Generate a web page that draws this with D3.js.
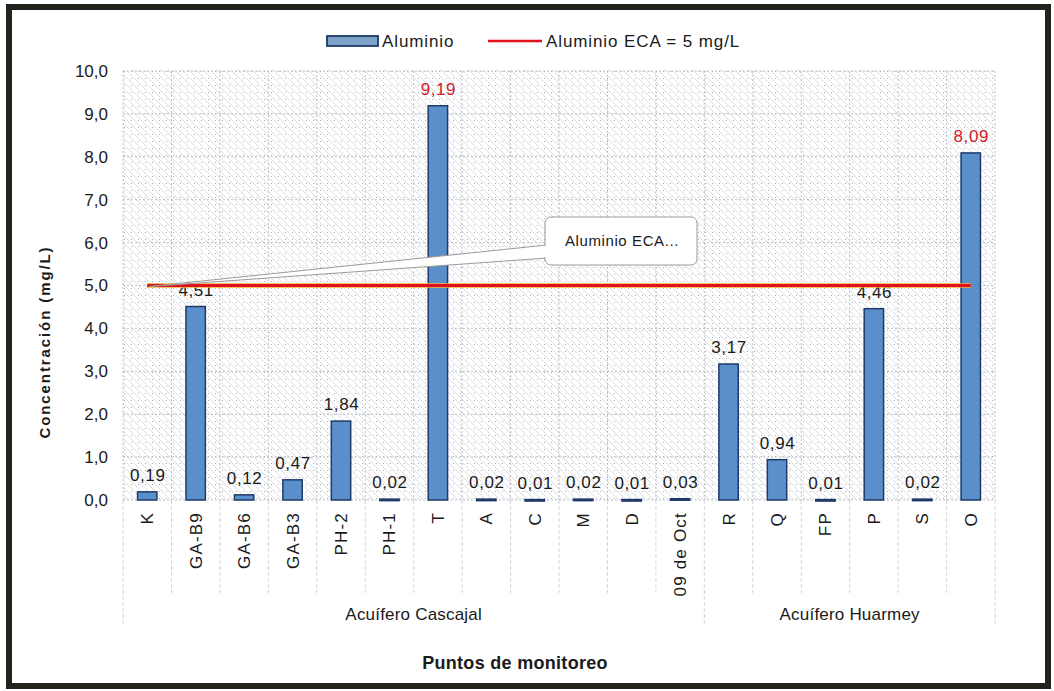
<!DOCTYPE html>
<html>
<head>
<meta charset="utf-8">
<script src="https://cdn.jsdelivr.net/npm/d3@7"></script>
<style>
  body { margin: 0; background: #fff; }
  text { font-family: "Liberation Sans", Arial, sans-serif; }
</style>
</head>
<body>
<div class="chart"></div>
<script>
// datos
var puntos = ["K", "GA-B9", "GA-B6", "GA-B3", "PH-2", "PH-1", "T", "A", "C", "M", "D", "09 de Oct",
              "R", "Q", "FP", "P", "S", "O"]
var aluminio = [0.19, 4.51, 0.12, 0.47, 1.84, 0.02, 9.19, 0.02, 0.01, 0.02, 0.01, 0.03,
                3.17, 0.94, 0.01, 4.46, 0.02, 8.09]
var acuiferos = ["Acuífero Cascajal", "Acuífero Huarmey"]
var puntosPorAcuifero = [12, 6]
var eca = 5
var yTicks = [0, 1, 2, 3, 4, 5, 6, 7, 8, 9, 10]

var W = 1054, H = 691
var svg = d3.select(".chart").append("svg").attr("width", W).attr("height", H)

var pLeft = 123, pRight = 995, pTop = 71, pBottom = 500

var x = d3.scaleBand().domain(puntos).range([pLeft, pRight]).paddingInner(0.6).paddingOuter(0.3)
var xb = d3.scaleBand().domain(puntos).range([pLeft, pRight])
var y = d3.scaleLinear().domain([0, 10]).range([pBottom, pTop])

// patron de fondo (rayado + puntos)
var defs = svg.append("defs")
var pat = defs.append("pattern").attr("id", "hatch").attr("patternUnits", "userSpaceOnUse")
  .attr("width", 7).attr("height", 7)
pat.append("rect").attr("width", 7).attr("height", 7).attr("fill", "#fff")
pat.append("path").attr("d", "M-1,-1 L8,8 M-1,6 L1,8 M6,-1 L8,1").attr("stroke", "#d0d3d9").attr("stroke-width", 0.8)
pat.append("circle").attr("cx", 5.5).attr("cy", 1.5).attr("r", 0.6).attr("fill", "#9a9ea6")

// marco
svg.append("rect").attr("x", 9).attr("y", 7).attr("width", 1039).attr("height", 679)
  .attr("fill", "#fff").attr("stroke", "#24221c").attr("stroke-width", 6)

svg.append("rect").attr("x", pLeft).attr("y", pTop - 1).attr("width", pRight - pLeft).attr("height", pBottom - pTop + 1)
  .attr("fill", "url(#hatch)")

// grilla
svg.append("g").selectAll("line").data(yTicks).enter().append("line")
  .attr("x1", pLeft).attr("x2", pRight)
  .attr("y1", d => y(d)).attr("y2", d => y(d))
  .attr("stroke", "#b0b4bc").attr("stroke-width", 0.8).attr("stroke-dasharray", "2,2")

var fronteras = puntos.map(d => xb(d)).concat([pRight])
svg.append("g").selectAll("line").data(fronteras).enter().append("line")
  .attr("x1", d => d).attr("x2", d => d)
  .attr("y1", pTop).attr("y2", pBottom)
  .attr("stroke", "#b0b4bc").attr("stroke-width", 0.8).attr("stroke-dasharray", "2,2")

// lineas de la tabla de categorias
var bordesGrupo = [pLeft]
var acum = 0
puntosPorAcuifero.forEach(n => { acum += n; bordesGrupo.push(xb(puntos[acum - 1]) + xb.bandwidth()) })
svg.append("g").selectAll("line").data(fronteras).enter().append("line")
  .attr("x1", d => d).attr("x2", d => d)
  .attr("y1", pBottom).attr("y2", d => bordesGrupo.some(b => Math.abs(b - d) < 1) ? 626 : 593)
  .attr("stroke", "#c8cbd0").attr("stroke-width", 0.8).attr("stroke-dasharray", "4,2")

// eje y
svg.append("g").selectAll("text").data(yTicks).enter().append("text")
  .attr("x", 108).attr("y", d => y(d)).attr("dy", "0.35em")
  .attr("text-anchor", "end").style("font-size", "17px").style("fill", "#1a1a1a")
  .text(d => d3.format(".1f")(d).replace(".", ","))

svg.append("text").attr("transform", "translate(50," + 342 + ") rotate(-90)")
  .attr("text-anchor", "middle").style("font-size", "15px").style("font-weight", "bold")
  .style("letter-spacing", "1.9px").style("fill", "#1a1a1a")
  .text("Concentración (mg/L)")

// barras
svg.append("g").selectAll("rect").data(aluminio).enter().append("rect")
  .attr("x", (d, i) => x(puntos[i]))
  .attr("width", x.bandwidth())
  .attr("y", d => y(d))
  .attr("height", d => Math.max(1.5, pBottom - y(d)))
  .attr("fill", "#5b8fcb").attr("stroke", "#1e3a68").attr("stroke-width", 1.5)

// etiquetas de valor
svg.append("g").selectAll("text").data(aluminio).enter().append("text")
  .attr("x", (d, i) => x(puntos[i]) + x.bandwidth() / 2 + 0.5)
  .attr("y", d => y(d) - 11)
  .attr("text-anchor", "middle").style("font-size", "17px").style("letter-spacing", "0.6px")
  .style("fill", d => d > eca ? "#d0202a" : "#1a1a1a")
  .text(d => d3.format(".2f")(d).replace(".", ","))

// linea ECA
var x0 = xb(puntos[0]) + xb.bandwidth() / 2
var x1 = xb(puntos[puntos.length - 1]) + xb.bandwidth() / 2
svg.append("line").attr("x1", x0).attr("x2", x1).attr("y1", y(eca)).attr("y2", y(eca))
  .attr("stroke", "#f2b233").attr("stroke-width", 4.5)
svg.append("line").attr("x1", x0).attr("x2", x1).attr("y1", y(eca)).attr("y2", y(eca))
  .attr("stroke", "#e0101c").attr("stroke-width", 3)

// llamada
var bx = 545, by = 217, bw = 152, bh = 48
svg.append("path")
  .attr("d", "M" + (bx + 2) + "," + (by + 28) + " L" + (x0 + 2) + "," + (y(eca) + 1) + " L" + (bx + 2) + "," + (by + 41) + " Z")
  .attr("fill", "#fff").attr("stroke", "#9a9a9a").attr("stroke-width", 1)
svg.append("rect").attr("x", bx).attr("y", by).attr("width", bw).attr("height", bh).attr("rx", 6)
  .attr("fill", "#fff").attr("stroke", "#9a9a9a").attr("stroke-width", 1)
svg.append("rect").attr("x", bx - 1).attr("y", by + 29).attr("width", 4).attr("height", 11).attr("fill", "#fff")
svg.append("text").attr("x", 622).attr("y", by + bh / 2).attr("dy", "0.35em")
  .attr("text-anchor", "middle").style("font-size", "15px").style("letter-spacing", "0.6px").style("fill", "#1a1a1a")
  .text("Aluminio ECA...")

// etiquetas de categoria
svg.append("g").selectAll("text").data(puntos).enter().append("text")
  .attr("transform", d => "translate(" + (xb(d) + xb.bandwidth() / 2) + ",512) rotate(-90)")
  .attr("text-anchor", "end").attr("dy", "0.35em")
  .style("font-size", "17px").style("letter-spacing", "1.2px").style("fill", "#1a1a1a")
  .text(d => d)

// etiquetas de acuifero
svg.append("g").selectAll("text").data(acuiferos).enter().append("text")
  .attr("x", (d, i) => (bordesGrupo[i] + bordesGrupo[i + 1]) / 2)
  .attr("y", 614).attr("dy", "0.35em")
  .attr("text-anchor", "middle")
  .style("font-size", "17px").style("letter-spacing", "0.2px").style("fill", "#1a1a1a")
  .text(d => d)

svg.append("text").attr("x", 515).attr("y", 663).attr("dy", "0.35em")
  .attr("text-anchor", "middle")
  .style("font-size", "18px").style("font-weight", "bold").style("letter-spacing", "0.3px").style("fill", "#1a1a1a")
  .text("Puntos de monitoreo")

// leyenda
svg.append("rect").attr("x", 327).attr("y", 36).attr("width", 51).attr("height", 10)
  .attr("fill", "#7ea3c8").attr("stroke", "#1e3a68").attr("stroke-width", 1.8)
svg.append("text").attr("x", 382).attr("y", 41).attr("dy", "0.35em")
  .style("font-size", "17px").style("letter-spacing", "0.9px").style("fill", "#1a1a1a").text("Aluminio")
svg.append("line").attr("x1", 488).attr("x2", 542).attr("y1", 41).attr("y2", 41)
  .attr("stroke", "#e0101c").attr("stroke-width", 2.5)
svg.append("text").attr("x", 546).attr("y", 41).attr("dy", "0.35em")
  .style("font-size", "17px").style("letter-spacing", "0.9px").style("fill", "#1a1a1a").text("Aluminio ECA = 5 mg/L")
</script>
</body>
</html>
